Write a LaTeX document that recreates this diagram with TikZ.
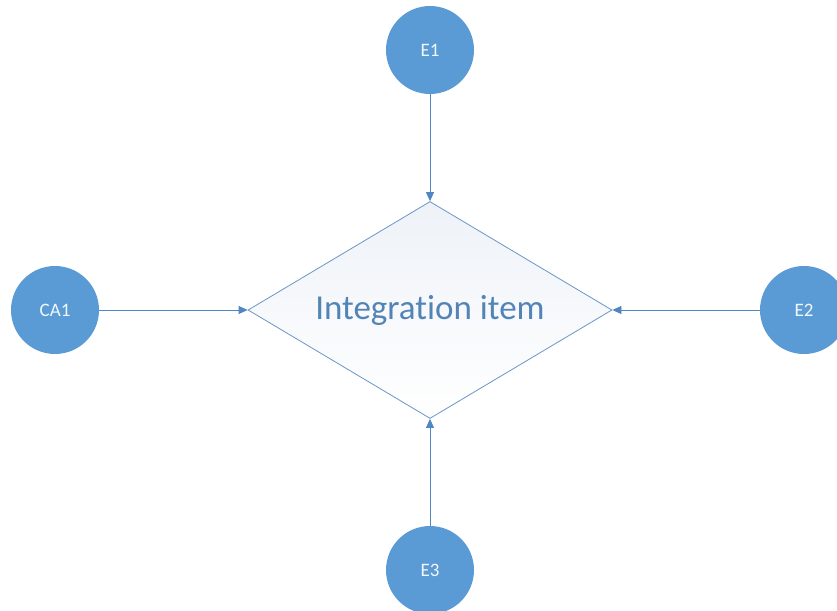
\documentclass[tikz,border=0pt]{standalone}
\usepackage{fontspec}
\setmainfont{Carlito}[Ligatures=NoCommon]
\usetikzlibrary{shapes.geometric,arrows.meta}
\definecolor{circfill}{HTML}{5B9BD5}
\definecolor{linkblue}{HTML}{4F87C2}
\definecolor{edgeblue}{HTML}{6A96C8}
\definecolor{itemtext}{HTML}{5384B6}
\definecolor{shadetop}{HTML}{EEF2F8}
\tikzset{
  entity/.style={circle, fill=circfill, draw=none, minimum size=88pt, inner sep=0pt,
    text=white!92!circfill, font=\fontsize{19}{19}\selectfont},
  itembox/.style={diamond, aspect=1.677, draw=edgeblue, line width=0.8pt, inner sep=0pt,
    minimum width=364pt, minimum height=217pt, top color=shadetop, bottom color=white,
    text=itemtext, font=\fontsize{35}{35}\selectfont},
  link/.style={draw=linkblue, line width=0.8pt, -{Triangle[length=9pt,width=8pt]}}
}
\begin{document}
\begin{tikzpicture}[x=1pt, y=-1pt]
  \useasboundingbox (0,0) rectangle (837,610);
  \fill[white] (0,0) rectangle (837,610);
  \begin{scope}
    \clip (0,0) rectangle (837,610);
    \node[itembox] (item) at (430,310) {\raisebox{-2pt}{Integration item}};
    \node[entity] (e1) at (430,50) {E1};
    \node[entity] (ca1) at (55,310) {CA1};
    \node[entity] (e2) at (804,310) {E2};
    \node[entity] (e3) at (430,570) {E3};
  \end{scope}
  \draw[link] (e1) -- (item.north);
  \draw[link] (ca1) -- (item.west);
  \draw[link] (e2) -- (item.east);
  \draw[link] (e3) -- (item.south);
\end{tikzpicture}
\end{document}
